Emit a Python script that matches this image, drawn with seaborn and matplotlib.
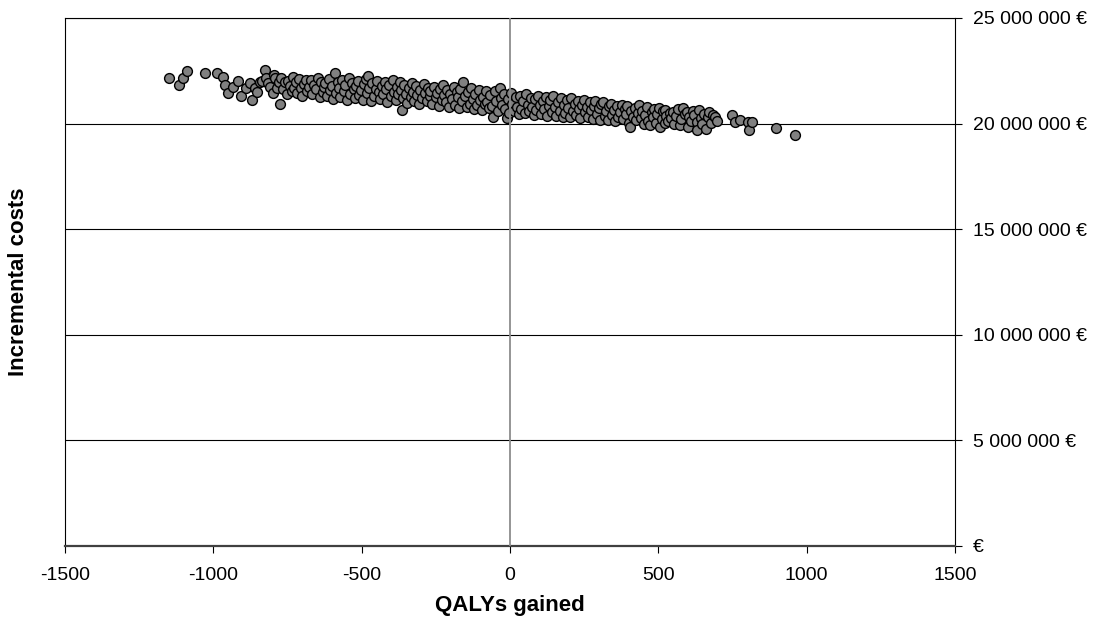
import matplotlib
matplotlib.use("Agg")
import matplotlib.pyplot as plt
from matplotlib.ticker import FixedLocator, FuncFormatter
import numpy as np
import pandas as pd
import seaborn as sns

# Probabilistic sensitivity analysis: incremental QALYs vs incremental costs (million EUR)
qalys_gained = [
    # left tail
    -1148, -1115, -1103, -1088, -1028, -989, -968, -961, -952, -935, -918, -908,
    -890, -876, -870, -860, -854, -843, -837, -826, -822, -815, -809, -800,
    -795, -792, -786, -780, -775,
    # main cloud
    -772, -765, -760, -752, -748, -741, -736, -730, -727,
    -722, -718, -712, -705, -700, -694, -688, -683, -677,
    -672, -668, -661, -655, -648, -642, -637, -631, -626,
    -622, -617, -611, -606, -600, -595, -590, -585, -579, -576,
    -572, -566, -560, -555, -549, -543, -538, -532, -527, -523,
    -519, -514, -508, -503, -497, -492, -487, -481, -478, -474,
    -470, -464, -459, -453, -448, -442, -437, -431, -427, -422,
    -418, -413, -407, -402, -396, -391, -385, -380, -376, -372,
    -368, -365, -362, -357, -351, -346, -340, -335, -330, -326, -322,
    -318, -313, -307, -302, -296, -291, -286, -280, -276, -271,
    -268, -262, -257, -251, -246, -240, -235, -230, -226, -221,
    -217, -212, -206, -201, -196, -190, -185, -180, -175, -171,
    -167, -162, -157, -151, -146, -140, -135, -130, -126, -121,
    -117, -112, -106, -101, -96, -90, -85, -80, -76, -71,
    -67, -62, -57, -51, -46, -40, -34, -30, -26, -21,
    -17, -11, -7, -2, 3, 8, 14, 19, 24, 29,
    33, 38, 44, 49, 54, 60, 65, 70, 75, 80,
    84, 89, 95, 100, 105, 111, 116, 121, 126, 131,
    135, 140, 146, 151, 156, 161, 167, 172, 177, 182,
    186, 191, 197, 202, 207, 212, 218, 223, 228, 233,
    237, 242, 248, 253, 258, 263, 269, 274, 279, 284,
    288, 293, 299, 303, 308, 314, 319, 324, 330, 335,
    339, 344, 350, 355, 360, 365, 371, 376, 381, 386,
    390, 395, 400, 404, 409, 414, 420, 425, 430, 436,
    440, 445, 451, 456, 461, 466, 472, 477, 482, 487,
    491, 496, 501, 506, 511, 516, 522, 522, 527, 533,
    538, 543, 549, 554, 559, 565, 573, 578, 583, 589,
    596, 600, 604, 610, 616, 621, 629, 630, 637, 643,
    648, 653, 661, 666, 671, 676, 683, 691, 697,
    # right tail
    747, 758, 775, 802, 807, 815, 897, 961,
]

incremental_cost_meur = [
    # left tail
    22.14, 21.83, 22.14, 22.49, 22.38, 22.38, 22.21, 21.83, 21.46, 21.75, 22.02, 21.30,
    21.70, 21.91, 21.12, 21.67, 21.51, 21.99, 22.02, 22.54, 22.14, 21.90, 21.75, 21.45,
    22.30, 22.14, 21.70, 21.95, 20.93,
    # main cloud
    22.15, 21.62, 21.95, 21.38, 22.02, 21.80, 21.55, 22.22, 21.70,
    21.95, 21.45, 22.10, 21.68, 21.30, 21.88, 22.05, 21.55, 21.75,
    22.08, 21.40, 21.85, 21.62, 22.15, 21.28, 21.95, 21.50, 21.75,
    21.90, 21.33, 22.12, 21.60, 21.80, 21.18, 22.38, 21.45, 21.98, 21.70,
    21.25, 22.05, 21.55, 21.82, 21.10, 22.18, 21.40, 21.92, 21.65, 21.20,
    21.78, 22.00, 21.35, 21.60, 21.12, 21.88, 22.10, 21.45, 22.25, 21.70,
    21.05, 21.90, 21.30, 21.65, 22.02, 21.48, 21.15, 21.80, 21.40, 21.95,
    21.62, 21.00, 21.85, 21.30, 22.05, 21.50, 21.12, 21.75, 21.38, 21.95,
    21.58, 20.64, 21.20, 21.85, 21.42, 20.98, 21.70, 21.28, 21.92, 21.50, 21.08,
    21.78, 21.35, 20.95, 21.60, 21.20, 21.88, 21.45, 21.05, 21.70, 21.30,
    21.55, 20.92, 21.75, 21.25, 21.45, 20.85, 21.65, 21.10, 21.82, 21.35,
    21.00, 21.60, 20.80, 21.40, 21.15, 21.72, 20.90, 21.50, 21.25, 20.75,
    21.62, 21.05, 21.98, 21.30, 20.78, 21.48, 20.95, 21.70, 21.18, 20.70,
    21.40, 20.88, 21.60, 21.10, 20.65, 21.28, 20.95, 21.52, 21.02, 20.75,
    21.35, 20.82, 20.33, 21.55, 21.05, 20.60, 21.68, 21.20, 20.90, 21.40,
    20.70, 20.26, 21.15, 20.50, 21.45, 20.95, 20.62, 21.25, 20.80, 20.45,
    21.30, 20.70, 21.08, 20.50, 21.40, 20.88, 20.58, 21.20, 20.78, 20.42,
    21.15, 20.65, 21.32, 20.90, 20.45, 21.05, 20.70, 21.25, 20.35, 20.85,
    21.12, 20.55, 21.30, 20.80, 20.38, 21.00, 20.62, 21.20, 20.30, 20.90,
    20.50, 21.10, 20.75, 20.30, 21.22, 20.60, 20.95, 20.40, 21.05, 20.68,
    20.25, 20.90, 21.10, 20.55, 20.80, 20.30, 21.00, 20.65, 20.20, 20.85,
    21.05, 20.45, 20.72, 20.18, 20.92, 21.04, 20.35, 20.60, 20.15, 20.82,
    20.95, 20.40, 20.65, 20.10, 20.85, 20.30, 20.55, 20.90, 20.20, 20.70,
    20.45, 20.82, 20.05, 19.85, 20.60, 20.30, 20.75, 20.15, 20.50, 20.88,
    20.25, 20.62, 20.00, 20.40, 20.78, 20.12, 19.93, 20.55, 20.30, 20.70,
    20.05, 20.45, 20.72, 19.85, 20.20, 20.58, 20.03, 20.64, 20.35, 20.10,
    20.50, 20.25, 20.56, 20.00, 20.38, 20.68, 19.93, 20.20, 20.75, 20.45,
    20.56, 19.85, 20.30, 20.10, 20.60, 20.40, 20.09, 19.70, 20.64, 20.25,
    20.00, 20.45, 19.73, 20.30, 20.56, 20.05, 20.40, 20.31, 20.10,
    # right tail
    20.41, 20.09, 20.17, 20.09, 19.70, 20.09, 19.78, 19.46,
]

x_ticks = [-1500, -1000, -500, 0, 500, 1000, 1500]
y_ticks = [0, 5e6, 10e6, 15e6, 20e6, 25e6]

df = pd.DataFrame({
    "QALYs gained": qalys_gained,
    "Incremental costs": np.asarray(incremental_cost_meur) * 1e6,
})

sns.set_style("white")
plt.rcParams["font.family"] = ["Liberation Sans", "DejaVu Sans"]
plt.rcParams["axes.unicode_minus"] = False
plt.rcParams["text.color"] = "black"
plt.rcParams["axes.labelcolor"] = "black"
plt.rcParams["xtick.color"] = "black"
plt.rcParams["ytick.color"] = "black"

fig = plt.figure(figsize=(10.94, 6.19), dpi=100)
ax = fig.add_axes([65 / 1094, 73 / 619, 890 / 1094, 528 / 619])

# horizontal gridlines at the cost ticks
for yv in y_ticks:
    ax.axhline(yv, color="black", lw=0.8, zorder=1)

sns.scatterplot(
    data=df, x="QALYs gained", y="Incremental costs", ax=ax,
    s=50, color="#808080", edgecolor="black", linewidth=1.0, zorder=3,
)

# vertical reference line at zero QALYs
ax.axvline(0, color="#8c8c8c", lw=1.3, zorder=4)

ax.set_xlim(-1500, 1500)
ax.set_ylim(0, 25e6)
ax.xaxis.set_major_locator(FixedLocator(x_ticks))
ax.yaxis.set_major_locator(FixedLocator(y_ticks))


def euro_fmt(v, pos):
    if v == 0:
        return "€"
    return f"{v:,.0f} €".replace(",", " ")


ax.yaxis.set_major_formatter(FuncFormatter(euro_fmt))
ax.yaxis.tick_right()
ax.tick_params(axis="y", which="both", right=True, left=False, direction="out",
               length=5, width=0.8, color="black", pad=8, labelsize=14,
               labelcolor="black")
ax.tick_params(axis="x", which="both", bottom=True, direction="out",
               length=5, width=0.8, color="black", pad=10, labelsize=14,
               labelcolor="black")

for side in ["left", "right", "top", "bottom"]:
    ax.spines[side].set_visible(True)
    ax.spines[side].set_color("black")
    ax.spines[side].set_linewidth(0.8)
ax.spines["bottom"].set_color("#404040")
ax.spines["bottom"].set_linewidth(1.6)

ax.set_xlabel("QALYs gained", fontsize=16, fontweight="bold", labelpad=8,
              color="black")
ax.set_ylabel("")
fig.text(19 / 1094, 1 - 282 / 619, "Incremental costs", rotation=90,
         fontsize=16, fontweight="bold", ha="center", va="center",
         color="black")

fig.savefig("out.png", dpi=100, facecolor="white")
